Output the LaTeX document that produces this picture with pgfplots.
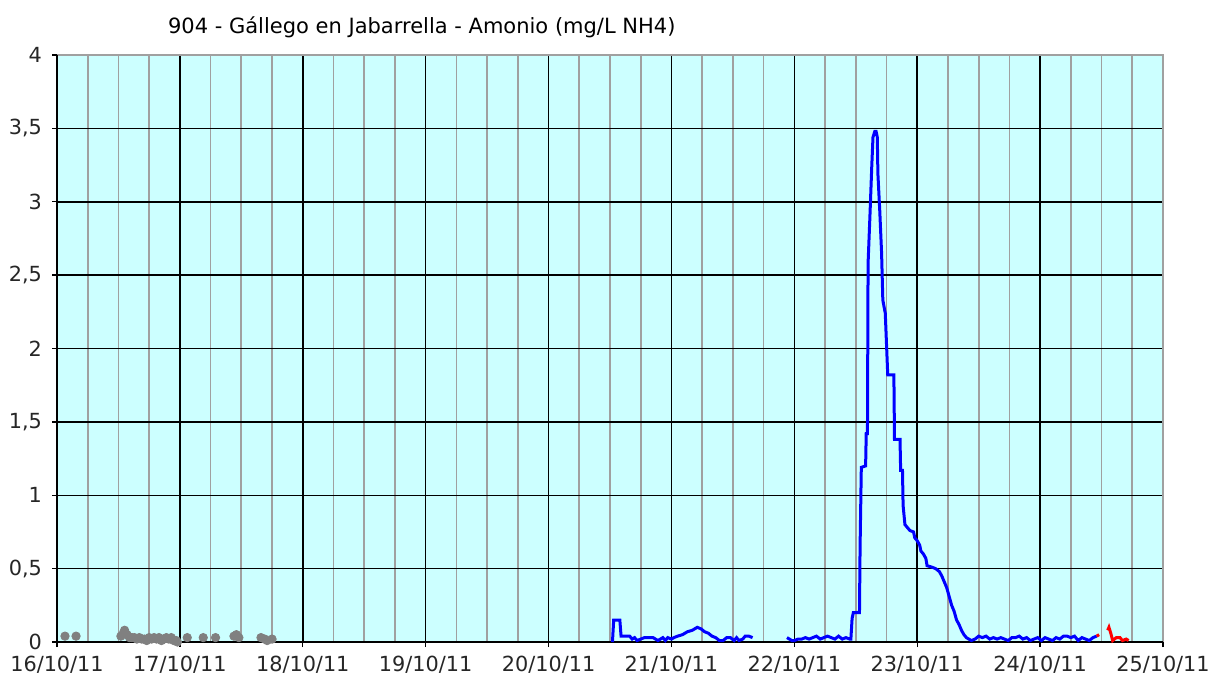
\documentclass[border=0pt]{standalone}
\usepackage{pgfplots}
\pgfplotsset{compat=1.18}
\usepackage{fontspec}
\setmainfont{DejaVu Sans}
\definecolor{plotbg}{HTML}{CCFFFF}
\definecolor{minorgrid}{HTML}{A0A0A0}
\definecolor{serblue}{HTML}{0000FF}
\definecolor{sergray}{HTML}{808080}

\begin{document}
\begin{tikzpicture}
\path[use as bounding box] (-28.5pt,-17.5pt) rectangle (575.5pt,321pt);
\begin{axis}[
    at={(0,0)}, anchor=south west,
    scale only axis,
    width=553pt, height=293.5pt,
    xmin=0, xmax=9, ymin=0, ymax=4,
    axis background/.style={fill=plotbg},
    axis line style={minorgrid, line width=0.8pt},
    xtick={0,1,...,8},
    xticklabels={16/10/11,17/10/11,18/10/11,19/10/11,20/10/11,21/10/11,22/10/11,23/10/11,24/10/11},
    extra x ticks={9},
    extra x tick labels={25/10/11},
    extra x tick style={grid=none},
    minor xtick={0.25,0.5,0.75,1.25,1.5,1.75,2.25,2.5,2.75,3.25,3.5,3.75,4.25,4.5,4.75,5.25,5.5,5.75,6.25,6.5,6.75,7.25,7.5,7.75,8.25,8.5,8.75},
    ytick={0,0.5,...,3.5},
    extra y ticks={4},
    extra y tick style={grid=none},
    /pgf/number format/use comma,
    /pgf/number format/fixed,
    /pgf/number format/assume math mode=true,
    tick pos=left,
    tick align=outside,
    major tick length=2.5pt,
    minor tick length=0pt,
    tick style={black, line width=0.7pt},
    grid=both,
    major grid style={black, line width=0.75pt},
    minor grid style={minorgrid, line width=0.85pt},
    ticklabel style={font=\fontsize{10.4}{12}\selectfont, text=black!85},
    xticklabel style={yshift=-1pt},
    yticklabel style={xshift=-1.5pt},
    clip=false,
]
% black left and bottom axis lines
\draw[black, line width=0.9pt] (rel axis cs:0,1) -- (rel axis cs:0,0) -- (rel axis cs:1,0);

% gray series (earlier data, markers)
\addplot[only marks, sergray, mark=*, mark size=2.1pt] coordinates {
    (0.065,0.04) (0.155,0.04)
    (0.52,0.04) (0.54,0.06) (0.55,0.08) (0.57,0.05) (0.59,0.03) (0.61,0.03)
    (0.63,0.03) (0.65,0.02) (0.67,0.03) (0.69,0.02) (0.71,0.02) (0.73,0.01)
    (0.75,0.03) (0.77,0.02) (0.79,0.03) (0.81,0.02) (0.83,0.03) (0.85,0.01)
    (0.87,0.02) (0.89,0.03) (0.91,0.02) (0.93,0.03) (0.95,0.01) (0.97,0.01)
    (0.98,0.00)
    (1.06,0.03) (1.19,0.03) (1.29,0.03) (1.44,0.04) (1.46,0.05) (1.48,0.03)
    (1.66,0.03) (1.69,0.02) (1.71,0.01) (1.75,0.02)
};

% blue series, first stretch
\addplot[serblue, line width=1.5pt] coordinates {
    (4.52,0.00) (4.53,0.15) (4.58,0.15) (4.59,0.04) (4.62,0.04) (4.66,0.04)
    (4.68,0.02) (4.70,0.03) (4.72,0.01) (4.75,0.02) (4.78,0.03) (4.82,0.03)
    (4.85,0.03) (4.87,0.02) (4.89,0.01) (4.91,0.02) (4.93,0.03) (4.95,0.01)
    (4.97,0.03) (5.00,0.02) (5.02,0.03) (5.05,0.04) (5.09,0.05) (5.13,0.07)
    (5.17,0.08) (5.21,0.10) (5.24,0.09) (5.27,0.07) (5.30,0.06) (5.33,0.04)
    (5.36,0.03) (5.39,0.01) (5.42,0.01) (5.45,0.03) (5.48,0.03) (5.51,0.01)
    (5.53,0.03) (5.55,0.01) (5.58,0.02) (5.60,0.04) (5.63,0.04) (5.66,0.03)
};

% blue series, second stretch with the peak
\addplot[serblue, line width=1.5pt] coordinates {
    (5.94,0.03) (5.96,0.02) (5.98,0.01) (6.00,0.01) (6.03,0.02) (6.06,0.02)
    (6.09,0.03) (6.12,0.02) (6.15,0.03) (6.18,0.04) (6.21,0.02) (6.24,0.03)
    (6.27,0.04) (6.30,0.03) (6.33,0.02) (6.36,0.04) (6.39,0.02) (6.42,0.03)
    (6.45,0.02) (6.46,0.02) (6.47,0.16) (6.48,0.20) (6.53,0.20) (6.535,0.65)
    (6.545,1.19) (6.58,1.20) (6.585,1.42) (6.595,1.42) (6.60,2.58) (6.615,2.90)
    (6.63,3.24) (6.64,3.44) (6.655,3.48) (6.665,3.48) (6.675,3.44) (6.68,3.19)
    (6.695,2.94) (6.71,2.65) (6.72,2.33) (6.74,2.24) (6.76,1.82) (6.81,1.82)
    (6.815,1.38) (6.86,1.38) (6.865,1.17) (6.88,1.17) (6.885,0.93) (6.90,0.80)
    (6.94,0.76) (6.97,0.75) (6.98,0.71) (7.00,0.69) (7.02,0.66) (7.03,0.62)
    (7.05,0.60) (7.07,0.57) (7.08,0.52) (7.12,0.51) (7.15,0.50) (7.18,0.48)
    (7.20,0.45) (7.22,0.41) (7.24,0.37) (7.26,0.31) (7.28,0.25) (7.30,0.21)
    (7.32,0.15) (7.34,0.12) (7.36,0.08) (7.38,0.05) (7.40,0.03) (7.42,0.02)
    (7.44,0.01) (7.47,0.02) (7.50,0.04) (7.53,0.03) (7.56,0.04) (7.59,0.02)
    (7.62,0.03) (7.65,0.02) (7.68,0.03) (7.71,0.02) (7.74,0.01) (7.77,0.03)
    (7.80,0.03) (7.83,0.04) (7.86,0.02) (7.89,0.03) (7.92,0.01) (7.95,0.02)
    (7.98,0.03) (8.01,0.01) (8.04,0.03) (8.07,0.02) (8.10,0.01) (8.13,0.03)
    (8.16,0.02) (8.19,0.04) (8.22,0.04) (8.25,0.03) (8.28,0.04) (8.31,0.01)
    (8.34,0.03) (8.37,0.02) (8.40,0.01) (8.43,0.03) (8.46,0.04)
};

% red series (latest data)
\addplot[red, line width=1.5pt] coordinates {
    (8.46,0.04) (8.48,0.05)
};
\addplot[red, line width=1.5pt] coordinates {
    (8.55,0.08) (8.56,0.10) (8.575,0.06) (8.59,0.01) (8.62,0.03) (8.65,0.03)
    (8.67,0.01) (8.70,0.02) (8.72,0.01)
};
\end{axis}
\node[anchor=west, font=\fontsize{10.5}{12}\selectfont] at (52pt,307.5pt)
    {904 - Gállego en Jabarrella - Amonio (mg/L NH4)};
\end{tikzpicture}
\end{document}
